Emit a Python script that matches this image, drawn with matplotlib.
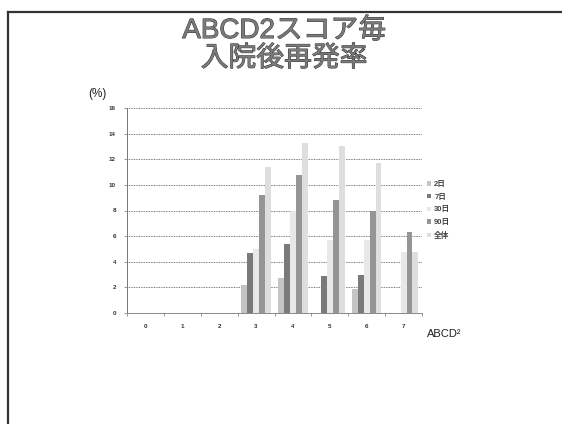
import matplotlib
matplotlib.use("Agg")
import matplotlib.pyplot as plt
import numpy as np
from matplotlib.lines import Line2D
import matplotlib.patheffects as pe

plt.rcParams['font.family'] = ['Liberation Sans', 'Noto Sans CJK JP', 'DejaVu Sans']

categories = ['0', '1', '2', '3', '4', '5', '6', '7']
series_names = ['2日', '7日', '30日', '90日', '全体']
v_2d = [0, 0, 0, 2.2, 2.7, 0, 1.9, 0]
v_7d = [0, 0, 0, 4.7, 5.4, 2.9, 3.0, 0]
v_30d = [0, 0, 0, 5.0, 8.0, 5.7, 5.7, 4.8]
v_90d = [0, 0, 0, 9.2, 10.8, 8.8, 8.0, 6.3]
v_all = [0, 0, 0, 11.4, 13.3, 13.0, 11.7, 4.8]
yticks = [0, 2, 4, 6, 8, 10, 12, 14, 16]

series = [v_2d, v_7d, v_30d, v_90d, v_all]
colors = ['#c4c4c4', '#7a7a7a', '#e8e8e8', '#959595', '#dedede']

fig = plt.figure(figsize=(5.62, 4.24), dpi=100)
fig.patch.set_facecolor('white')

# slide frame lines
fig.add_artist(Line2D([8/562, 1.0], [1-12/424, 1-12/424], transform=fig.transFigure, color='#333333', lw=1.6))
fig.add_artist(Line2D([8/562, 8/562], [0, 1-12/424], transform=fig.transFigure, color='#333333', lw=1.6))

title_fx = [pe.withStroke(linewidth=0.7, foreground='#333333')]
fig.text(284/562, 1-31/424, 'ABCD2スコア毎', ha='center', va='center', fontsize=20,
         color='#7a7a7a', path_effects=title_fx)
fig.text(284/562, 1-59/424, '入院後再発率', ha='center', va='center', fontsize=20,
         color='#7a7a7a', path_effects=title_fx)

ax = fig.add_axes([127/562, 1-313/424, (422-127)/562, (313-108)/424])
x = np.arange(len(categories))
w = 0.16
for i, (vals, c) in enumerate(zip(series, colors)):
    ax.bar(x + (i - 2) * w, vals, width=w, color=c, label=series_names[i], zorder=3)

ax.set_xlim(-0.5, len(categories) - 0.5)
ax.set_ylim(0, 16)
ax.set_yticks(yticks)
ax.set_yticklabels([str(t) for t in yticks], fontsize=4.5, color='#333333', fontweight='bold')
ax.set_xticks(x)
ax.set_xticklabels(categories, fontsize=4.5, color='#333333', fontweight='bold')
ax.tick_params(axis='x', length=0, pad=8)
ax.tick_params(axis='y', length=2, width=0.6, color='#888888', pad=6)
ax.set_xticks(np.arange(-0.5, len(categories), 1), minor=True)
ax.tick_params(axis='x', which='minor', length=2, width=0.6, color='#888888')
ax.yaxis.grid(True, linestyle=(0, (1, 1)), color='#555555', lw=0.6, zorder=0)
for s in ['top', 'right']:
    ax.spines[s].set_visible(False)
ax.spines['left'].set_linestyle((0, (1, 1)))
ax.spines['left'].set_color('#777777')
ax.spines['left'].set_linewidth(0.7)
ax.spines['bottom'].set_color('#888888')
ax.spines['bottom'].set_linewidth(0.7)

fig.text(88/562, 1-94/424, '(%)', ha='left', va='center', fontsize=8.5, color='#222222')
fig.text(427/562, 1-334/424, 'ABCD²', ha='left', va='center', fontsize=8, color='#222222')

leg = ax.legend(loc='center left', bbox_to_anchor=(1.0, 0.5), frameon=False, fontsize=5.5,
                handlelength=0.5, handleheight=0.5, handletextpad=0.4, labelspacing=0.75,
                borderaxespad=0.3)
for t in leg.get_texts():
    t.set_color('#444444')
    t.set_fontweight('bold')

fig.savefig('out.png', dpi=100, facecolor='white')
